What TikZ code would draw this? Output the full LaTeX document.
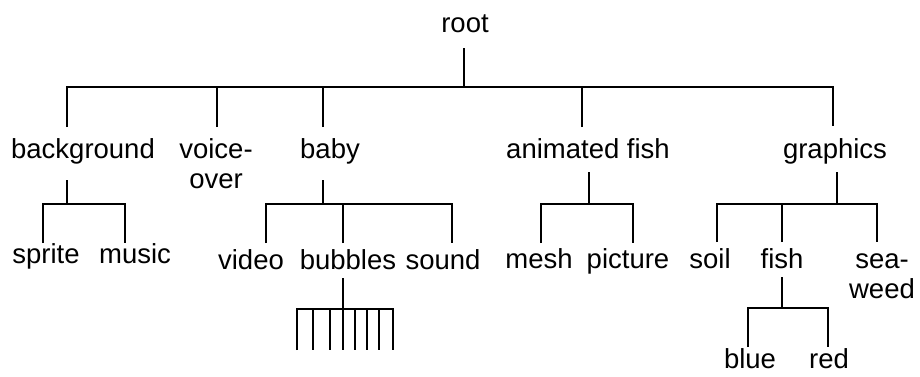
\documentclass[tikz,border=0pt]{standalone}
\usepackage{fontspec}
\setmainfont{Liberation Sans}
\begin{document}
\begin{tikzpicture}[x=1pt,y=-1pt,
  lbl/.style={inner sep=0pt, anchor=base, align=center, font=\fontsize{27.5}{30}\selectfont},
  edge/.style={line width=1.1pt, black}]
\useasboundingbox[fill=white] (0,0) rectangle (920,376);
% labels
\node[lbl] (root) at (465,32) {root};
\node[lbl] (background) at (83,158) {background};
\node[lbl] (voiceover) at (216,188) {voice-\\over};
\node[lbl] (baby) at (330,158) {baby};
\node[lbl] (anim) at (588,158) {animated fish};
\node[lbl] (graphics) at (835,158) {graphics};
\node[lbl] (sprite) at (46,263) {sprite};
\node[lbl] (music) at (135,263) {music};
\node[lbl] (video) at (251,269) {video};
\node[lbl] (bubbles) at (348,269) {bubbles};
\node[lbl] (sound) at (443,269) {sound};
\node[lbl] (mesh) at (539,268) {mesh};
\node[lbl] (picture) at (628,268) {picture};
\node[lbl] (soil) at (710,268) {soil};
\node[lbl] (fish) at (782,268) {fish};
\node[lbl] (seaweed) at (882,298) {sea-\\weed};
\node[lbl] (blue) at (750,368) {blue};
\node[lbl] (red) at (829,368) {red};
% root level
\coordinate (root-dn) at (464,48);
\coordinate (rbus) at (464,87);
\coordinate (bg-up) at (67,127);
\coordinate (vo-up) at (217,127);
\coordinate (ba-up) at (323,127);
\coordinate (af-up) at (582,127);
\coordinate (gr-up) at (833,126);
\draw[edge] (root-dn) -- (rbus);
\draw[edge] (bg-up) -- (bg-up |- rbus) -- (gr-up |- rbus) -- (gr-up);
\draw[edge] (vo-up) -- (vo-up |- rbus);
\draw[edge] (ba-up) -- (ba-up |- rbus);
\draw[edge] (af-up) -- (af-up |- rbus);
% background subtree
\coordinate (bg-dn) at (67,180);
\coordinate (bgbus) at (67,204);
\coordinate (sp-up) at (43,243);
\coordinate (mu-up) at (125,243);
\draw[edge] (bg-dn) -- (bgbus);
\draw[edge] (sp-up) -- (sp-up |- bgbus) -- (mu-up |- bgbus) -- (mu-up);
% baby subtree
\coordinate (ba-dn) at (323,180);
\coordinate (babus) at (323,204);
\coordinate (vi-up) at (266,243);
\coordinate (bu-up) at (343,243);
\coordinate (so-up) at (452,243);
\draw[edge] (ba-dn) -- (babus);
\draw[edge] (vi-up) -- (vi-up |- babus) -- (so-up |- babus) -- (so-up);
\draw[edge] (bu-up) -- (bu-up |- babus);
% bubbles comb
\coordinate (bu-dn) at (343,278);
\coordinate (bubus) at (343,309);
\draw[edge] (bu-dn) -- (bubus);
\coordinate (t1) at (297,350);
\coordinate (t8) at (393,350);
\draw[edge] (t1) -- (t1 |- bubus) -- (t8 |- bubus) -- (t8);
\foreach \tx in {313,330,343,355,367,379}
  \draw[edge] (\tx,309) -- (\tx,350);
% animated fish subtree
\coordinate (af-dn) at (589,172);
\coordinate (afbus) at (589,204);
\coordinate (me-up) at (541,243);
\coordinate (pi-up) at (633,243);
\draw[edge] (af-dn) -- (afbus);
\draw[edge] (me-up) -- (me-up |- afbus) -- (pi-up |- afbus) -- (pi-up);
% graphics subtree
\coordinate (gr-dn) at (837,172);
\coordinate (grbus) at (837,204);
\coordinate (soil-up) at (717,242);
\coordinate (fi-up) at (782,242);
\coordinate (sw-up) at (877,242);
\draw[edge] (gr-dn) -- (grbus);
\draw[edge] (soil-up) -- (soil-up |- grbus) -- (sw-up |- grbus) -- (sw-up);
\draw[edge] (fi-up) -- (fi-up |- grbus);
% fish subtree
\coordinate (fi-dn) at (782,277);
\coordinate (fibus) at (782,308);
\coordinate (bl-up) at (748,347);
\coordinate (re-up) at (828,347);
\draw[edge] (fi-dn) -- (fibus);
\draw[edge] (bl-up) -- (bl-up |- fibus) -- (re-up |- fibus) -- (re-up);
\end{tikzpicture}
\end{document}
